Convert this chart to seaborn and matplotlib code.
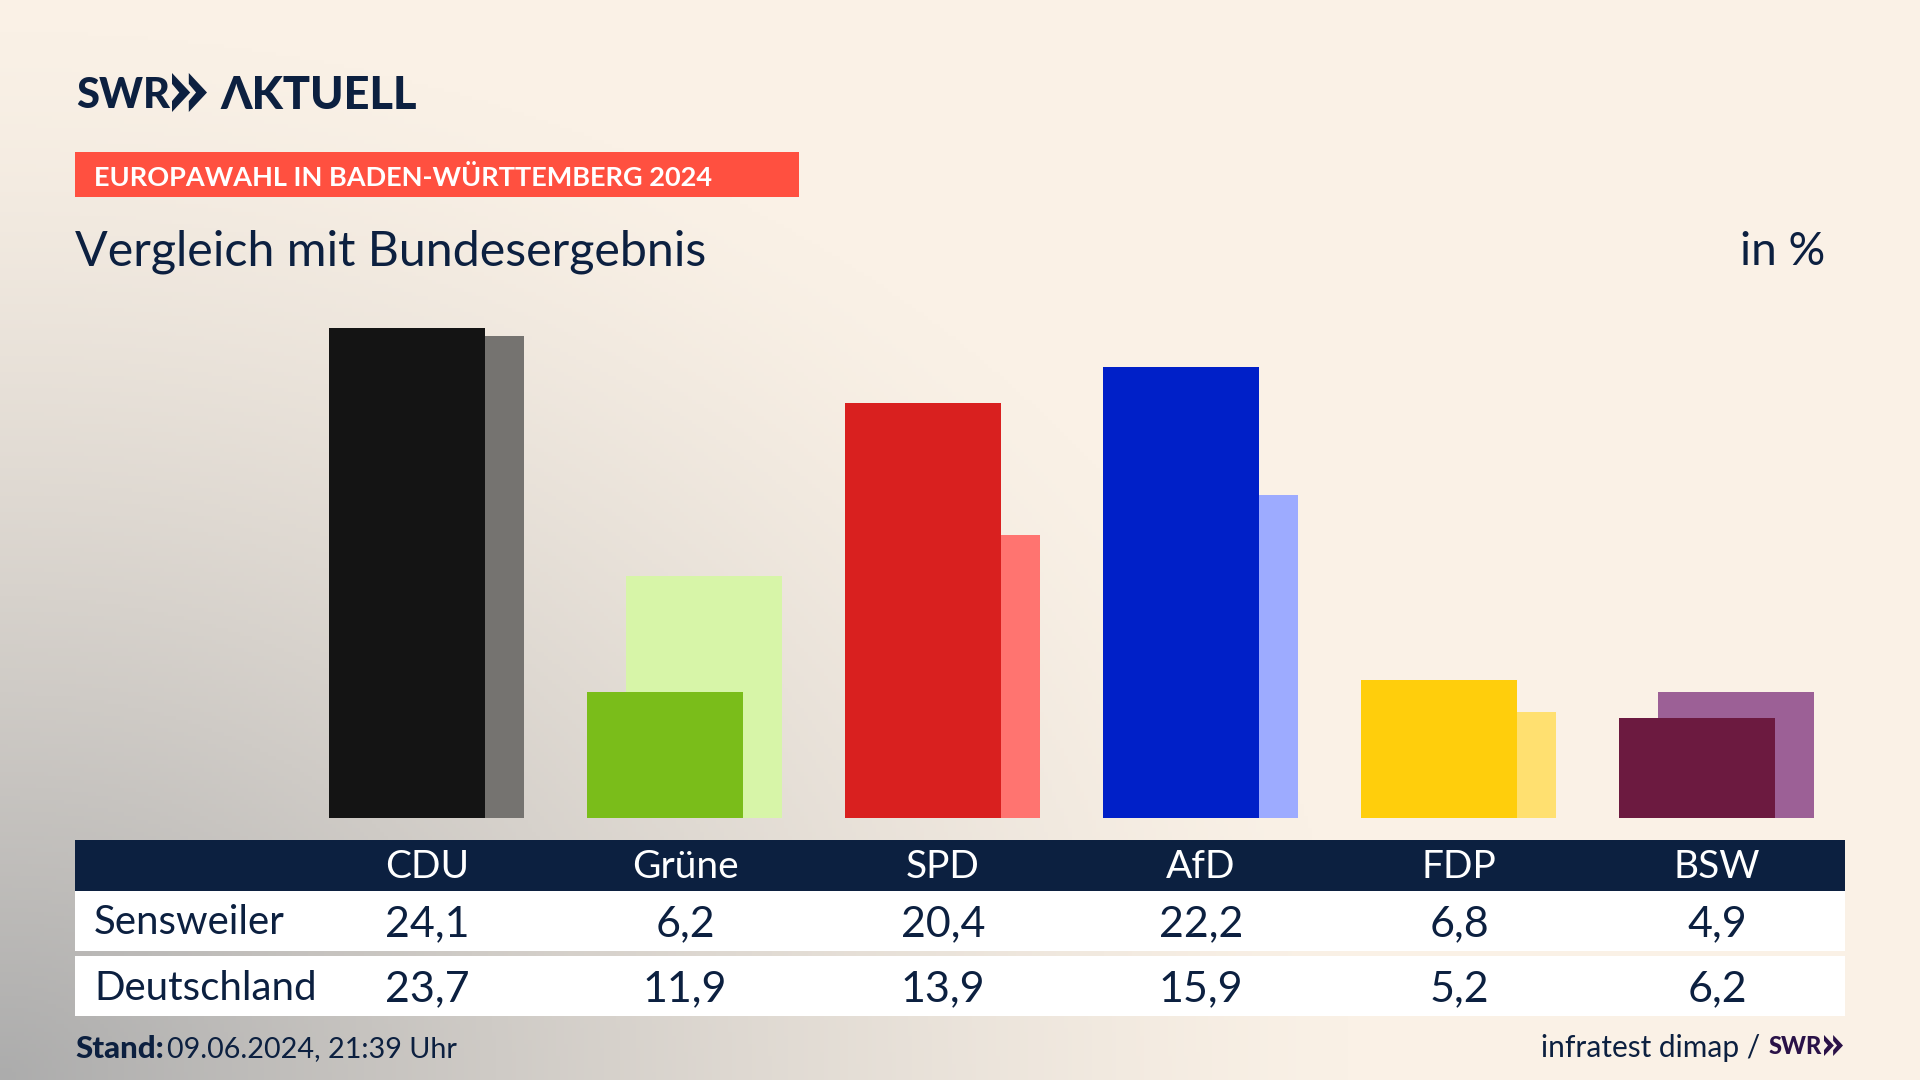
import numpy as np
import pandas as pd
import seaborn as sns
import matplotlib.pyplot as plt
from matplotlib.colors import to_rgb
from matplotlib.patches import Polygon, Rectangle

parties = ['CDU', 'Grüne', 'SPD', 'AfD', 'FDP', 'BSW']
sensweiler = [24.1, 6.2, 20.4, 22.2, 6.8, 4.9]
deutschland = [23.7, 11.9, 13.9, 15.9, 5.2, 6.2]
dark_colors = ['#141414', '#7ABD1A', '#D9201F', '#0020C8', '#FFCE0C', '#6C1A40']
light_colors = ['#757370', '#D7F5A8', '#FF7470', '#9DABFF', '#FFE070', '#9C6096']

navy = '#0C2040'
cream = '#FAF1E6'
W, H = 1920, 1080

sns.set_theme(style='white')
plt.rcParams['font.family'] = ['Lato', 'DejaVu Sans']

fig = plt.figure(figsize=(W / 100, H / 100), dpi=100)

# page layer in pixel coordinates
page = fig.add_axes([0, 0, 1, 1])
page.axis('off')

# grey glow from the bottom left corner
xx, yy = np.meshgrid(np.linspace(0, 1, 480), np.linspace(0, 1, 270))
r = np.sqrt((xx * W / 1350) ** 2 + ((1 - yy) * H / 1050) ** 2)
t = np.clip(1 - r, 0, 1) ** 1.3
grey = np.array(to_rgb('#ACACAC'))
base = np.array(to_rgb(cream))
bg = base + (grey - base) * t[..., None]
page.imshow(bg, extent=[0, W, H, 0], aspect='auto', zorder=0)
page.set_xlim(0, W)
page.set_ylim(H, 0)


def box(x0, y0, x1, y1, color):
    page.add_patch(Rectangle((x0, y0), x1 - x0, y1 - y0, color=color, lw=0, zorder=1))


def chevrons(x, y, w, h, color):
    # the two arrows of the SWR logo
    cw = w * 0.52
    for dx in (0, w - cw):
        page.add_patch(Polygon([(x + dx, y), (x + dx + cw, y + h / 2), (x + dx, y + h), (x + dx, y + h * 0.72),
                                (x + dx + cw * 0.4, y + h / 2), (x + dx, y + h * 0.28)],
                               color=color, lw=0, zorder=2))


# logo
page.text(76, 96, 'SWR', fontsize=30, fontweight='black', color=navy, va='center', ha='left')
chevrons(172, 73, 35, 39, navy)
page.text(220, 96, 'ΛKTUELL', fontsize=32.5, fontweight='black', color=navy, va='center', ha='left')

# headline
box(75, 152, 799, 197, '#FF5040')
page.text(94, 177, 'EUROPAWAHL IN BADEN-WÜRTTEMBERG 2024', fontsize=19.5, fontweight='bold', color='white',
          va='center', ha='left')
page.text(75, 252, 'Vergleich mit Bundesergebnis', fontsize=34.8, color=navy, va='center', ha='left')
page.text(1825, 252, 'in %', fontsize=33, color=navy, va='center', ha='right')

# table
box(75, 840, 1845, 891, navy)
box(75, 891, 1845, 951, 'white')
box(75, 956, 1845, 1016, 'white')
page.text(94, 923, 'Sensweiler', fontsize=29, color=navy, va='center', ha='left')
page.text(94, 988, 'Deutschland', fontsize=29, color=navy, va='center', ha='left')
for i, party in enumerate(parties):
    cx = 427 + 258 * i
    page.text(cx, 867, party, fontsize=28, color='white', va='center', ha='center')
    page.text(cx, 924, str(sensweiler[i]).replace('.', ','), fontsize=31, color=navy, va='center', ha='center')
    page.text(cx, 989, str(deutschland[i]).replace('.', ','), fontsize=31, color=navy, va='center', ha='center')

# footer
page.text(75, 1049, 'Stand:', fontsize=22.5, fontweight='black', color=navy, va='center', ha='left')
page.text(167, 1049, '09.06.2024, 21:39 Uhr', fontsize=20.7, color=navy, va='center', ha='left')
page.text(1760, 1048, 'infratest dimap /', fontsize=21.5, color=navy, va='center', ha='right')
page.text(1769, 1047, 'SWR', fontsize=17, fontweight='black', color='#2A1248', va='center', ha='left')
chevrons(1824, 1035, 19, 21, '#2A1248')

# bars: two overlapping axes, the Germany result shifted to the right behind the local one
df = pd.DataFrame({'party': parties, 'sensweiler': sensweiler, 'deutschland': deutschland})
bar_w = 156 / 258
px_per_unit = 20.33
ymax = 25
bottom = (H - 818) / H
height = ymax * px_per_unit / H


def bar_axes(left):
    ax = fig.add_axes([left / W, bottom, 6 * 258 / W, height])
    ax.patch.set_alpha(0)
    return ax


ax_de = bar_axes(278.4 + 39)
sns.barplot(data=df, x='party', y='deutschland', hue='party', palette=light_colors, legend=False,
            width=bar_w, saturation=1, order=parties, linewidth=0, ax=ax_de)
ax_sw = bar_axes(278.4)
sns.barplot(data=df, x='party', y='sensweiler', hue='party', palette=dark_colors, legend=False,
            width=bar_w, saturation=1, order=parties, linewidth=0, ax=ax_sw)

for ax in (ax_de, ax_sw):
    ax.set_xlim(-0.5, 5.5)
    ax.set_ylim(0, ymax)
    ax.axis('off')

fig.savefig('out.png', dpi=100)
